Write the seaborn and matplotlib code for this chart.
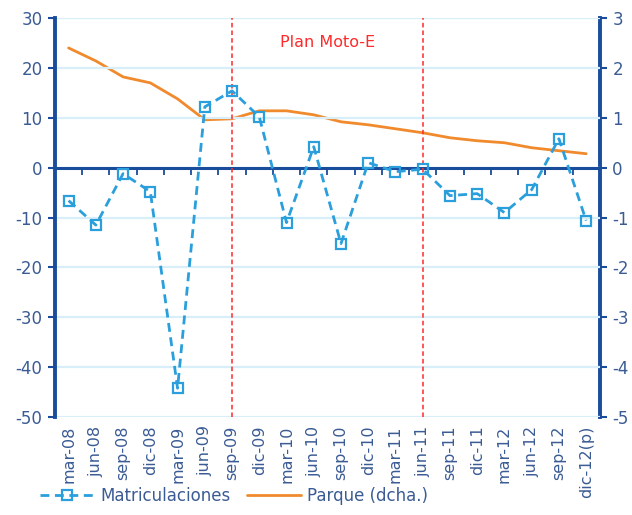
import numpy as np
import pandas as pd
import matplotlib
matplotlib.use("Agg")
import matplotlib.pyplot as plt
import seaborn as sns

# data
periodos = ["mar-08", "jun-08", "sep-08", "dic-08", "mar-09", "jun-09", "sep-09", "dic-09",
            "mar-10", "jun-10", "sep-10", "dic-10", "mar-11", "jun-11", "sep-11", "dic-11",
            "mar-12", "jun-12", "sep-12", "dic-12(p)"]
matriculaciones = [-6.6, -11.5, -1.2, -4.8, -44.2, 12.2, 15.4, 10.2, -11.0, 4.2,
                   -15.2, 1.0, -0.8, -0.3, -5.6, -5.2, -9.0, -4.4, 5.8, -10.6]
parque = [2.40, 2.14, 1.82, 1.70, 1.38, 0.96, 0.98, 1.14, 1.14, 1.06,
          0.92, 0.86, 0.78, 0.70, 0.60, 0.54, 0.50, 0.40, 0.34, 0.28]
plan_inicio = "sep-09"
plan_fin = "jun-11"

azul_osc = "#1a4c9c"
azul_txt = "#3a5b94"
azul_linea = "#2a9fdc"
naranja = "#f08a2c"
rojo = "#ff2a2a"

sns.set_style("white")
plt.rcParams["font.family"] = ["DejaVu Sans"]

df = pd.DataFrame({"pos": np.arange(len(periodos)), "periodo": periodos,
                   "matric": matriculaciones, "parque": parque})

fig = plt.figure(figsize=(6.32, 5.15), dpi=100)
ax = fig.add_axes([0.087, 0.19, 0.862, 0.775])
ax2 = ax.twinx()

ax.set_xlim(-0.5, len(periodos) - 0.5)
ax.set_ylim(-50, 30)
ax2.set_ylim(-5, 3)

for y in np.arange(-50, 31, 10):
    ax.axhline(y, color="#d8eef9", lw=1.6, zorder=0)
ax.axhline(0, color=azul_osc, lw=2.2, zorder=1)
bordes = np.arange(len(periodos) - 1) + 0.5
ax.plot(bordes, np.zeros_like(bordes), ls="none", marker=3, ms=5, mew=1.3,
        color=azul_osc, zorder=1)

for p in [plan_inicio, plan_fin]:
    ax.axvline(periodos.index(p), color=rojo, lw=1.1, ls=(0, (3, 2)), zorder=1)
xm = (periodos.index(plan_inicio) + periodos.index(plan_fin)) / 2
ax.text(xm, 25, "Plan Moto-E", color=rojo, fontsize=11.5, ha="center", va="center")

sns.lineplot(data=df, x="pos", y="parque", ax=ax2, color=naranja, lw=2.0,
             label="Parque (dcha.)", legend=False)
sns.lineplot(data=df, x="pos", y="matric", ax=ax, color=azul_linea, lw=2.0,
             ls=(0, (3.2, 2.0)), marker="s", ms=7.5, mfc="none", mec=azul_linea, mew=1.6,
             label="Matriculaciones", legend=False)
ax.set_zorder(ax2.get_zorder() + 1)
ax.patch.set_visible(False)

ax.set_xticks(df["pos"])
ax.set_xticklabels(periodos, rotation=90, fontsize=11.5, color=azul_txt)
ax.tick_params(axis="x", length=0, pad=6)
ax.set_yticks(np.arange(-50, 31, 10))
ax.set_yticklabels([str(v) for v in range(-50, 31, 10)], fontsize=12, color=azul_txt)
ax.tick_params(axis="y", length=5, width=1.5, color=azul_osc, pad=4)
ax2.set_yticks(np.arange(-5, 4, 1))
ax2.set_yticklabels([str(v) for v in range(-5, 4)], fontsize=12, color=azul_txt)
ax2.tick_params(axis="y", length=5, width=1.5, color=azul_osc, pad=4)
ax.set_xlabel("")
ax.set_ylabel("")
ax2.set_ylabel("")

for a in (ax, ax2):
    for s in ["top", "bottom", "left", "right"]:
        a.spines[s].set_visible(False)
ax.spines["left"].set_visible(True)
ax.spines["left"].set_color(azul_osc)
ax.spines["left"].set_linewidth(2.8)
ax2.spines["right"].set_visible(True)
ax2.spines["right"].set_color(azul_osc)
ax2.spines["right"].set_linewidth(2.8)

h1, l1 = ax.get_legend_handles_labels()
h2, l2 = ax2.get_legend_handles_labels()
fig.legend(h1 + h2, l1 + l2, loc="lower left", bbox_to_anchor=(0.04, -0.01), ncol=2,
           frameon=False, fontsize=12, labelcolor=azul_txt, handlelength=3.2,
           columnspacing=1.0, handletextpad=0.4)

fig.savefig("out.png", dpi=100)
